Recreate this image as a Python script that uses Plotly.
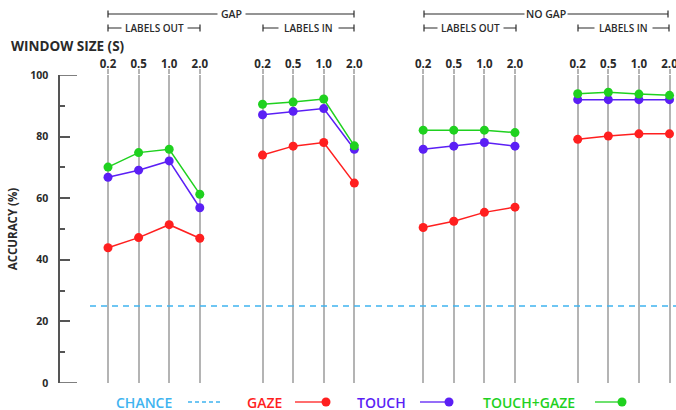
import plotly.graph_objects as go

# ---------------- data ----------------
WINDOW_SIZES = ["0.2", "0.5", "1.0", "2.0"]
CONDITIONS = ["GAP / LABELS OUT", "GAP / LABELS IN", "NO GAP / LABELS OUT", "NO GAP / LABELS IN"]

GAZE = [
    [43.9, 47.2, 51.4, 47.0],
    [74.0, 76.9, 78.1, 64.9],
    [50.5, 52.5, 55.4, 57.1],
    [79.1, 80.2, 80.9, 80.9],
]
TOUCH = [
    [66.8, 69.1, 72.1, 56.9],
    [87.1, 88.2, 89.1, 75.9],
    [75.9, 76.9, 78.1, 76.9],
    [92.0, 92.0, 92.0, 92.0],
]
TOUCH_GAZE = [
    [70.1, 74.8, 75.9, 61.3],
    [90.5, 91.2, 92.2, 77.0],
    [82.1, 82.1, 82.1, 81.3],
    [93.9, 94.4, 93.8, 93.4],
]
CHANCE = 25
Y_TICKS = [0, 20, 40, 60, 80, 100]

# ---------------- layout constants ----------------
W, H = 676, 410
L, R, T, B = 60, 0, 75, 27
PW, PH = W - L - R, H - T - B
UNIT = 30.6          # px per window-size step
ORIGIN = 108         # px of first window position
GROUP_OFFSETS = [0, 5.05, 10.3, 15.35]

X_MIN = (L - ORIGIN) / UNIT
X_MAX = (W - R - ORIGIN) / UNIT

def xp(px):
    return (px - L) / PW

def yp(py):
    return (H - B - py) / PH

def xd(px):
    return (px - ORIGIN) / UNIT

C_GAZE = "#ff1f1f"
C_TOUCH = "#5b1ff5"
C_TG = "#1fd11f"
C_CHANCE = "#3fb4f0"
C_TEXT = "#2a2a2a"
C_GRID = "#b4b4b4"
FONT = "Open Sans"

positions = []
labels = []
for g, off in enumerate(GROUP_OFFSETS):
    for i, w in enumerate(WINDOW_SIZES):
        positions.append(off + i)
        labels.append(w)

fig = go.Figure()

# chance line
fig.add_trace(go.Scatter(
    x=[xd(90), X_MAX], y=[CHANCE, CHANCE], mode="lines",
    line=dict(color=C_CHANCE, width=1.3, dash="6px,5px"),
    hoverinfo="skip", showlegend=False))

for series, color in [(GAZE, C_GAZE), (TOUCH, C_TOUCH), (TOUCH_GAZE, C_TG)]:
    for g, off in enumerate(GROUP_OFFSETS):
        fig.add_trace(go.Scatter(
            x=[off + i for i in range(len(WINDOW_SIZES))], y=series[g],
            mode="lines+markers",
            line=dict(color=color, width=1.5),
            marker=dict(color=color, size=9),
            cliponaxis=False, showlegend=False, name=CONDITIONS[g]))

shapes = []
annotations = []

# extended end ticks on y axis (0 and 100)
for v in (0, 100):
    shapes.append(dict(type="line", xref="paper", yref="y", x0=0, x1=xp(77), y0=v, y1=v,
                       line=dict(color="#555555", width=1.5)))

# top brackets
def bracket(x0, x1, py, text, size, pad):
    shapes.append(dict(type="line", xref="paper", yref="paper", x0=xp(x0), x1=xp(x1),
                       y0=yp(py), y1=yp(py), line=dict(color=C_TEXT, width=1.2)))
    for xx in (x0, x1):
        shapes.append(dict(type="line", xref="paper", yref="paper", x0=xp(xx), x1=xp(xx),
                           y0=yp(py - 3.5), y1=yp(py + 3.5), line=dict(color=C_TEXT, width=1.2)))
    annotations.append(dict(xref="paper", yref="paper", x=xp((x0 + x1) / 2), y=yp(py),
                            text=text, showarrow=False, bgcolor="white", borderpad=pad,
                            font=dict(family=FONT, size=size, color=C_TEXT, weight=600),
                            xanchor="center", yanchor="middle"))

bracket(108, 354, 14, "GAP", 10.5, 3)
bracket(424, 668, 14, "NO GAP", 10.5, 1)
bracket(108, 200, 28, "LABELS OUT", 10, 3)
bracket(263, 354, 28, "LABELS IN", 10, 5)
bracket(424, 516, 28, "LABELS OUT", 10, 3)
bracket(578, 669, 28, "LABELS IN", 10, 4)

annotations.append(dict(xref="paper", yref="paper", x=xp(9), y=yp(46), text="<b>WINDOW SIZE (S)</b>",
                        showarrow=False, xanchor="left", yanchor="middle",
                        font=dict(family=FONT, size=13.5, color=C_TEXT)))

# legend (text then symbol)
LY = 402
def legend_text(cx, text, color):
    annotations.append(dict(xref="paper", yref="paper", x=xp(cx), y=yp(LY), text=text,
                            showarrow=False, xanchor="center", yanchor="middle",
                            font=dict(family=FONT, size=14, color=color, weight=600)))

legend_text(144, "CHANCE", C_CHANCE)
shapes.append(dict(type="line", xref="paper", yref="paper", x0=xp(188), x1=xp(222),
                   y0=yp(LY), y1=yp(LY), line=dict(color=C_CHANCE, width=1.3, dash="4px,3px")))
for cx, x0, x1, text, color in [(264, 295, 326, "GAZE", C_GAZE),
                                (381, 420, 449, "TOUCH", C_TOUCH),
                                (529, 595, 622, "TOUCH+GAZE", C_TG)]:
    legend_text(cx, text, color)
    shapes.append(dict(type="line", xref="paper", yref="paper", x0=xp(x0), x1=xp(x1),
                       y0=yp(LY), y1=yp(LY), line=dict(color=color, width=1.3)))
    shapes.append(dict(type="circle", xref="paper", yref="paper",
                       x0=xp(x1 - 4.5), x1=xp(x1 + 4.5), y0=yp(LY + 4.5), y1=yp(LY - 4.5),
                       fillcolor=color, line=dict(color=color, width=0)))

fig.update_layout(
    width=W, height=H,
    margin=dict(l=L, r=R, t=T, b=B, autoexpand=False),
    paper_bgcolor="white", plot_bgcolor="white",
    font=dict(family=FONT, color=C_TEXT),
    shapes=shapes, annotations=annotations,
    xaxis=dict(range=[X_MIN, X_MAX], side="top", tickmode="array",
               tickvals=positions, ticktext=["<b>%s</b>" % t for t in labels],
               tickfont=dict(family=FONT, size=11.5, color=C_TEXT),
               showgrid=True, gridcolor=C_GRID, gridwidth=2,
               ticks="outside", ticklen=5, tickcolor=C_GRID, tickwidth=2,
               ticklabelstandoff=-4, ticklabeloverflow="allow",
               showline=False, zeroline=False, fixedrange=True),
    yaxis=dict(range=[0, 100], tickmode="array", tickvals=Y_TICKS,
               ticktext=["<b>%d</b>" % v for v in Y_TICKS],
               tickfont=dict(family=FONT, size=10.5, color=C_TEXT),
               ticks="inside", ticklen=10, tickcolor="#555555", tickwidth=1.5,
               minor=dict(dtick=10, ticks="inside", ticklen=5, tickcolor="#555555", tickwidth=1.5),
               showline=True, linecolor="#555555", linewidth=1.5,
               showgrid=False, zeroline=False, ticklabelstandoff=8, fixedrange=True,
               title=dict(text="<b>ACCURACY (%)</b>", standoff=10,
                          font=dict(family=FONT, size=11.5, color=C_TEXT))),
)

fig.write_html("out.html", config={"displayModeBar": False},
               post_script="document.body.style.margin='0';document.body.style.overflow='hidden';")
